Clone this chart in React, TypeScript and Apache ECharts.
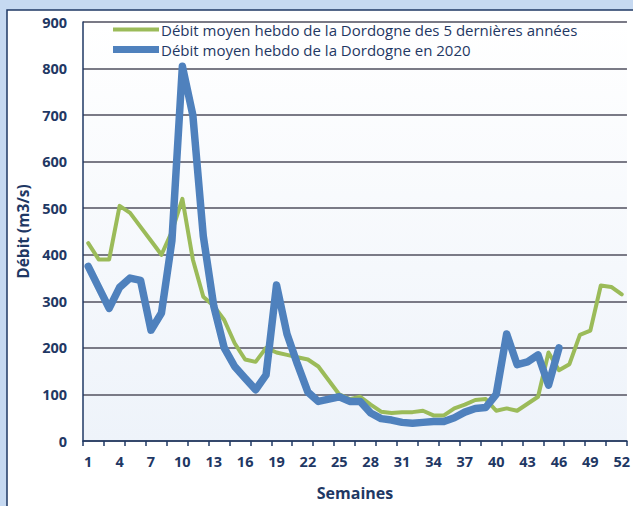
import React, { useEffect, useRef } from "react";
import * as echarts from "echarts";

const weeks: string[] = Array.from({ length: 52 }, (_, i) => String(i + 1));

const moyenne5ans: number[] = [
  425, 390, 390, 505, 490, 460, 430, 400, 450, 520,
  390, 310, 290, 260, 210, 175, 170, 200, 190, 185,
  180, 175, 160, 130, 100, 90, 95, 78, 63, 60,
  62, 62, 65, 55, 55, 70, 78, 88, 90, 65,
  70, 65, 80, 95, 190, 152, 165, 228, 237, 334,
  331, 315,
];

const debit2020: number[] = [
  375, 330, 285, 330, 350, 345, 238, 275, 430, 805,
  700, 440, 290, 200, 160, 135, 110, 142, 335, 230,
  165, 105, 85, 90, 95, 85, 85, 60, 48, 45,
  40, 38, 40, 42, 42, 50, 62, 70, 72, 100,
  230, 164, 170, 185, 120, 200,
];

const yTicks = { min: 0, max: 900, interval: 100 };

const serieVerte = "Débit moyen hebdo de la Dordogne des 5 dernières années";
const serieBleue = "Débit moyen hebdo de la Dordogne en 2020";

const NAVY = "#1f3864";
const FONT = "Open Sans";

export default function App() {
  const ref = useRef<HTMLDivElement>(null);
  useEffect(() => {
    if (!ref.current) return;
    const chart = echarts.init(ref.current, null, { renderer: "svg" });
    chart.setOption({
      animation: false,
      backgroundColor: "#c6d9f1",
      textStyle: { fontFamily: FONT },
      graphic: [
        {
          type: "rect",
          z: -10,
          shape: { x: 7, y: 10, width: 640, height: 510 },
          style: { fill: "#ffffff", stroke: "#1f3864", lineWidth: 1.5 },
        },
      ],
      grid: {
        left: 83,
        right: 4,
        top: 22,
        bottom: 63,
        show: true,
        borderWidth: 0,
        backgroundColor: {
          type: "linear",
          x: 0,
          y: 0,
          x2: 0,
          y2: 1,
          colorStops: [
            { offset: 0, color: "#ffffff" },
            { offset: 1, color: "#eef3fa" },
          ],
        },
      },
      legend: {
        orient: "vertical",
        left: 108,
        top: 20,
        itemWidth: 46,
        itemHeight: 14,
        itemGap: 5,
        padding: [2, 5],
        data: [
          { name: serieVerte, icon: "path://M0,0 L46,0 L46,4 L0,4 Z" },
          { name: serieBleue, icon: "path://M0,0 L46,0 L46,7 L0,7 Z" },
        ],
        textStyle: { color: NAVY, fontSize: 15, fontFamily: FONT, padding: [0, 0, 0, -3] },
      },
      xAxis: {
        type: "category",
        data: weeks,
        boundaryGap: true,
        name: "Semaines",
        nameLocation: "middle",
        nameGap: 44,
        nameTextStyle: { color: NAVY, fontWeight: "bold", fontSize: 16, fontFamily: FONT },
        axisLine: { lineStyle: { color: NAVY, width: 1.5 } },
        axisTick: { show: true, interval: 1, length: 5, lineStyle: { color: NAVY, width: 1.5 } },
        axisLabel: { interval: 2, color: NAVY, fontWeight: "bold", fontSize: 14.5, margin: 13, fontFamily: FONT },
        splitLine: { show: false },
      },
      yAxis: {
        type: "value",
        min: yTicks.min,
        max: yTicks.max,
        interval: yTicks.interval,
        name: "Débit (m3/s)",
        nameLocation: "middle",
        nameGap: 48,
        nameTextStyle: { color: NAVY, fontWeight: "bold", fontSize: 15.5, fontFamily: FONT },
        axisLine: { show: true, lineStyle: { color: NAVY, width: 1.5 } },
        axisTick: { show: false },
        axisLabel: { color: NAVY, fontWeight: "bold", fontSize: 14.5, margin: 16, fontFamily: FONT },
        splitLine: { show: true, lineStyle: { color: "#7a7a86", width: 2 } },
      },
      series: [
        {
          name: serieVerte,
          type: "line",
          data: moyenne5ans,
          symbol: "none",
          color: "#9bbb59",
          lineStyle: { color: "#9bbb59", width: 4, join: "round", cap: "round" },
          z: 2,
        },
        {
          name: serieBleue,
          type: "line",
          data: debit2020,
          symbol: "none",
          color: "#4f81bd",
          lineStyle: { color: "#4f81bd", width: 7.5, join: "round", cap: "round" },
          z: 3,
        },
      ],
    });
    return () => chart.dispose();
  }, []);
  return (
    <div
      ref={ref}
      style={{ position: "absolute", left: 0, top: 0, width: 633, height: 506 }}
    />
  );
}
